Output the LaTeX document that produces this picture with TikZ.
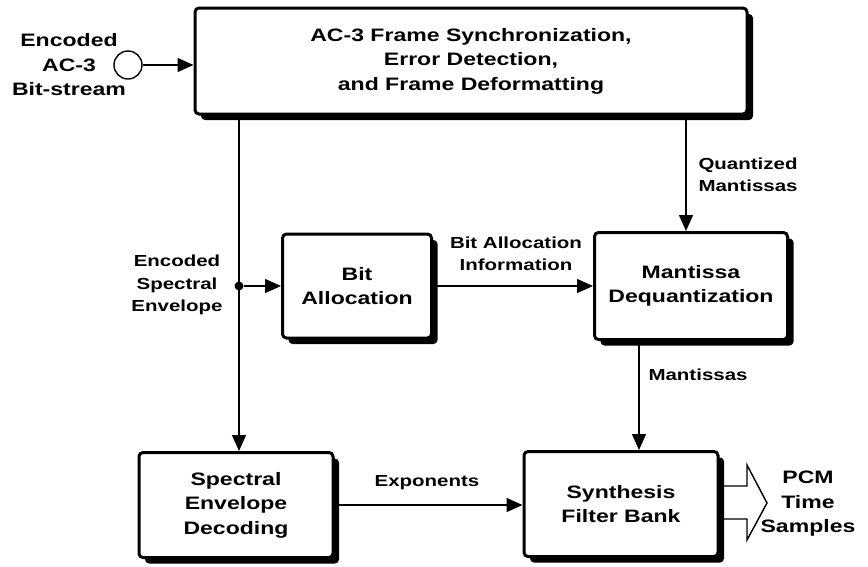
\documentclass[tikz,border=0pt]{standalone}
\usepackage{fontspec}
\setmainfont{Liberation Sans}[FakeStretch=1.28]
\usetikzlibrary{arrows.meta,shadows}

\begin{document}
\begin{tikzpicture}[x=1pt, y=-1pt,
    font=\fontsize{18}{24.5}\selectfont\bfseries,
    block/.style={draw, line width=3pt, rounded corners=4pt, fill=white, align=center, inner sep=0pt,
        drop shadow={shadow xshift=6pt, shadow yshift=-6pt, fill=black, opacity=1}},
    lbl/.style={align=center, font=\fontsize{16}{22.5}\selectfont\bfseries},
    biglbl/.style={align=center},
    flow/.style={line width=1.4pt, -{Triangle[length=16pt,width=14pt]}}]
    \useasboundingbox (0,0) rectangle (868,566);

    % Blocchi
    \node[block, minimum width=552pt, minimum height=106pt] (frame) at (471,61)
        {AC-3 Frame Synchronization,\\Error Detection,\\and Frame Deformatting};
    \node[block, minimum width=149pt, minimum height=104pt] (bitalloc) at (357,286) {Bit\\Allocation};
    \node[block, minimum width=193pt, minimum height=107pt] (mantdq) at (691,286) {Mantissa\\Dequantization};
    \node[block, minimum width=194pt, minimum height=105pt] (specdec) at (236,505) {Spectral\\Envelope\\Decoding};
    \node[block, minimum width=194pt, minimum height=105pt] (synth) at (621,504) {Synthesis\\Filter Bank};

    % Ingresso
    \node[circle, draw, line width=1.4pt, minimum size=28pt, inner sep=0pt] (src) at (128,65) {};
    \node[biglbl] (srclbl) at (69,65) {Encoded\\AC-3\\Bit-stream};
    \draw[flow] (src) -- (frame.west |- src);

    % Inviluppo spettrale
    \node[circle, fill, minimum size=9pt, inner sep=0pt] (tap) at (239,286) {};
    \node[lbl] (envlbl) at (177,285) {Encoded\\Spectral\\Envelope};
    \draw[flow] (tap |- frame.south) -- (tap |- specdec.north);
    \draw[flow] (tap) -- (bitalloc.west |- tap);

    % Mantisse
    \coordinate (qm) at (686,0);
    \coordinate (mt) at (639,0);
    \draw[flow] (qm |- frame.south) -- (qm |- mantdq.north);
    \node[lbl, align=left, anchor=west] (qmlbl) at (695,175) {Quantized\\Mantissas};
    \draw[flow] (bitalloc.east) -- (bitalloc.east -| mantdq.west);
    \node[lbl] (balbl) at (516,254) {Bit Allocation\\Information};
    \draw[flow] (mt |- mantdq.south) -- (mt |- synth.north);
    \node[lbl, anchor=west] (mtlbl) at (645,375) {Mantissas};
    \draw[flow] (specdec.east) -- (specdec.east -| synth.west);
    \node[lbl] (explbl) at (427,483) {Exponents};

    % Uscita PCM
    \draw[line width=1.4pt, line join=miter] (723,486) -- (747,486) -- (747,465) -- (767,503)
        -- (747,540) -- (747,519) -- (723,519);
    \node[biglbl] (pcmlbl) at (808,504) {PCM\\Time\\Samples};
\end{tikzpicture}
\end{document}
